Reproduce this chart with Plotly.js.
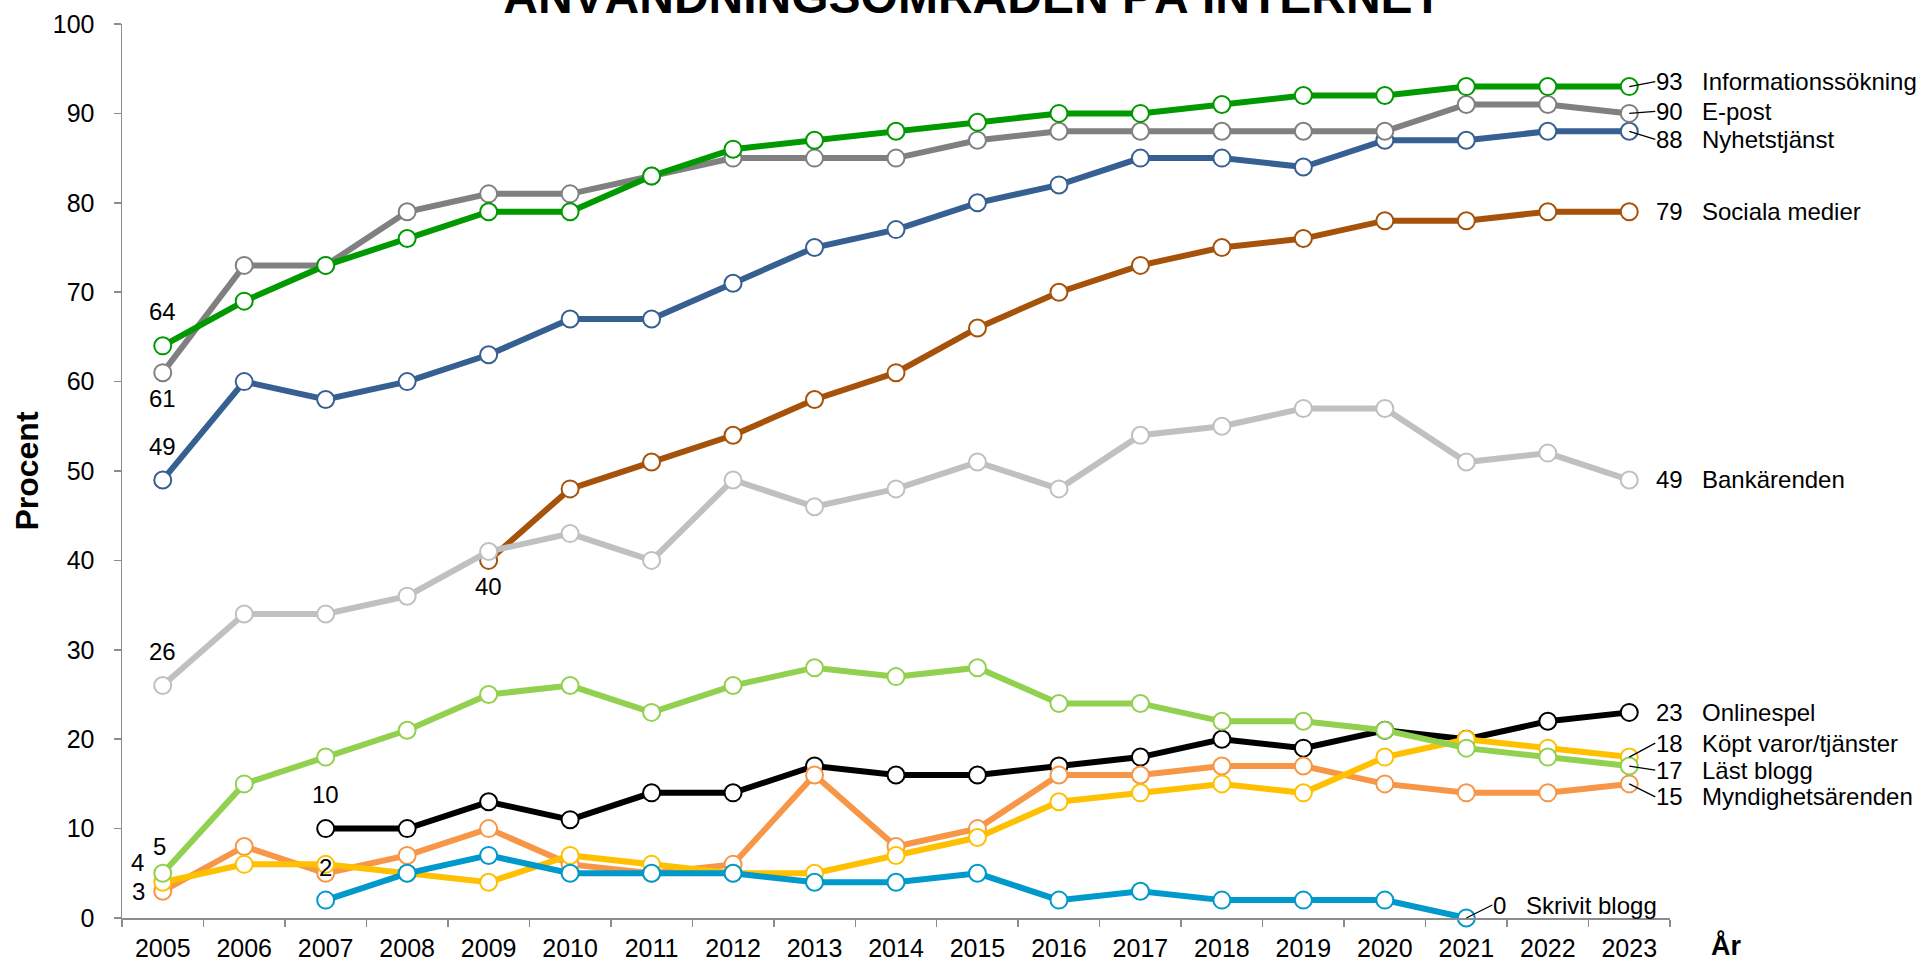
<!DOCTYPE html>
<html><head><meta charset="utf-8">
<script src="https://cdn.plot.ly/plotly-3.0.1.min.js"></script>
<style>html,body{margin:0;padding:0;background:#fff;overflow:hidden}#chart{width:1921px;height:961px}</style>
</head><body><div id="chart"></div>
<script>
// ---- data ----
const years = ['2005','2006','2007','2008','2009','2010','2011','2012','2013','2014','2015','2016','2017','2018','2019','2020','2021','2022','2023'];
const informationssokning = [64,69,73,76,79,79,83,86,87,88,89,90,90,91,92,92,93,93,93];
const epost               = [61,73,73,79,81,81,83,85,85,85,87,88,88,88,88,88,91,91,90];
const nyhetstjanst        = [49,60,58,60,63,67,67,71,75,77,80,82,85,85,84,87,87,88,88];
const socialaMedier       = [null,null,null,null,40,48,51,54,58,61,66,70,73,75,76,78,78,79,79];
const bankarenden         = [26,34,34,36,41,43,40,49,46,48,51,48,54,55,57,57,51,52,49];
const onlinespel          = [null,null,10,10,13,11,14,14,17,16,16,17,18,20,19,21,20,22,23];
const kopt                = [4,6,6,5,4,7,6,5,5,7,9,13,14,15,14,18,20,19,18];
const lastBlogg           = [5,15,18,21,25,26,23,26,28,27,28,24,24,22,22,21,19,18,17];
const myndighet           = [3,8,5,7,10,6,5,6,16,8,10,16,16,17,17,15,14,14,15];
const skrivitBlogg        = [null,null,2,5,7,5,5,5,4,4,5,2,3,2,2,2,0,null,null];
const seriesNames = ['Informationssökning','E-post','Nyhetstjänst','Sociala medier','Bankärenden','Onlinespel','Köpt varor/tjänster','Läst blogg','Myndighetsärenden','Skrivit blogg'];
const chartTitle = 'ANVÄNDNINGSOMRÅDEN PÅ INTERNET';
const yTitle = 'Procent';
const xTitle = 'År';

// ---- styles ----
const FONT = 'Liberation Sans, Arial, Helvetica, sans-serif';
const AXIS_COLOR = '#8c8c8c';
// drawing order bottom -> top, with colours and label offsets (pixels)
const specs = [
  {v: socialaMedier,       n: seriesNames[3], c: '#A6520A', dy: 0,   arrow: false},
  {v: bankarenden,         n: seriesNames[4], c: '#C0C0C0', dy: 0,   arrow: false},
  {v: nyhetstjanst,        n: seriesNames[2], c: '#366092', dy: -8,  arrow: true},
  {v: epost,               n: seriesNames[1], c: '#808080', dy: 2,   arrow: true},
  {v: informationssokning, n: seriesNames[0], c: '#009900', dy: 5,   arrow: true},
  {v: onlinespel,          n: seriesNames[5], c: '#000000', dy: 0,   arrow: false},
  {v: myndighet,           n: seriesNames[8], c: '#F79646', dy: -13, arrow: true},
  {v: kopt,                n: seriesNames[6], c: '#FFC000', dy: 14,  arrow: true},
  {v: lastBlogg,           n: seriesNames[7], c: '#92D050', dy: -4,  arrow: true},
  {v: skrivitBlogg,        n: seriesNames[9], c: '#0099CC', dy: 13,  arrow: true, nameShift: 59}
];

const traces = specs.map(s => ({
  type: 'scatter', mode: 'lines+markers', x: years, y: s.v, name: s.n,
  line: {color: s.c, width: 6},
  marker: {size: 17, color: '#ffffff', line: {color: s.c, width: 2}},
  cliponaxis: false, connectgaps: false, hoverinfo: 'x+y+name'
}));

const annFont = {family: FONT, size: 24, color: '#000'};
const annotations = [];
specs.forEach(s => {
  let i = s.v.length - 1;
  while (s.v[i] === null) i--;
  const v = s.v[i];
  if (s.arrow) {
    annotations.push({x: i, y: v, xref: 'x', yref: 'y', text: String(v), font: annFont,
      showarrow: true, arrowhead: 0, arrowwidth: 1.3, arrowcolor: '#000', standoff: 0,
      ax: 26, ay: -s.dy, xanchor: 'left', yanchor: 'middle', borderpad: 0});
  } else {
    annotations.push({x: i, y: v, xref: 'x', yref: 'y', text: String(v), font: annFont,
      showarrow: false, xshift: 26, yshift: s.dy, xanchor: 'left', yanchor: 'middle', borderpad: 0});
  }
  annotations.push({x: i, y: v, xref: 'x', yref: 'y', text: s.n, font: annFont,
    showarrow: false, xshift: s.nameShift || 72, yshift: s.dy, xanchor: 'left', yanchor: 'middle', borderpad: 0});
});

// start-value labels
const startLabels = [
  {v: informationssokning, i: 0, dx: 0, dy: 34},
  {v: epost, i: 0, dx: 0, dy: -26},
  {v: nyhetstjanst, i: 0, dx: 0, dy: 33},
  {v: bankarenden, i: 0, dx: 0, dy: 34},
  {v: socialaMedier, i: 4, dx: 0, dy: -26},
  {v: onlinespel, i: 2, dx: 0, dy: 34},
  {v: lastBlogg, i: 0, dx: -3, dy: 27},
  {v: kopt, i: 0, dx: -25, dy: 20},
  {v: myndighet, i: 0, dx: -24, dy: 0},
  {v: skrivitBlogg, i: 2, dx: 0, dy: 33}
];
startLabels.forEach(l => {
  annotations.push({x: l.i, y: l.v[l.i], xref: 'x', yref: 'y', text: String(l.v[l.i]), font: annFont,
    showarrow: false, xshift: l.dx, yshift: l.dy, xanchor: 'center', yanchor: 'middle', borderpad: 0});
});

// x axis title
annotations.push({xref: 'paper', yref: 'paper', x: 1.0255, y: -0.031, text: '<b>' + xTitle + '</b>',
  font: {family: FONT, size: 27, color: '#000'}, showarrow: false, xanchor: 'left', yanchor: 'middle'});

const layout = {
  width: 1921, height: 961,
  margin: {l: 122, r: 251, t: 24, b: 43, pad: 0},
  paper_bgcolor: '#ffffff', plot_bgcolor: '#ffffff',
  showlegend: false,
  font: {family: FONT, size: 25, color: '#000'},
  title: {text: '<b>' + chartTitle + '</b>', xref: 'container', yref: 'container',
    x: 0.5063, xanchor: 'center', y: 1 - 13/961, yanchor: 'bottom',
    font: {family: FONT, size: 48, color: '#000'}},
  xaxis: {
    type: 'category', showgrid: false, zeroline: false,
    showline: true, linecolor: AXIS_COLOR, linewidth: 1.5,
    ticks: 'outside', tickson: 'boundaries', ticklen: 7, tickwidth: 1.5, tickcolor: AXIS_COLOR,
    tickfont: {family: FONT, size: 25, color: '#000'}, ticklabelstandoff: 7,
    range: [-0.5, 18.5], fixedrange: true
  },
  yaxis: {
    range: [0, 100], dtick: 10, tick0: 0, showgrid: false, zeroline: false,
    showline: true, linecolor: AXIS_COLOR, linewidth: 1.5,
    ticks: 'outside', ticklen: 7, tickwidth: 1.5, tickcolor: AXIS_COLOR,
    tickfont: {family: FONT, size: 25, color: '#000'}, ticklabelstandoff: 14,
    title: {text: '<b>' + yTitle + '</b>', font: {family: FONT, size: 32, color: '#000'}, standoff: 4},
    fixedrange: true
  },
  annotations: annotations
};

Plotly.newPlot('chart', traces, layout, {displayModeBar: false, staticPlot: true});
</script>
</body></html>
